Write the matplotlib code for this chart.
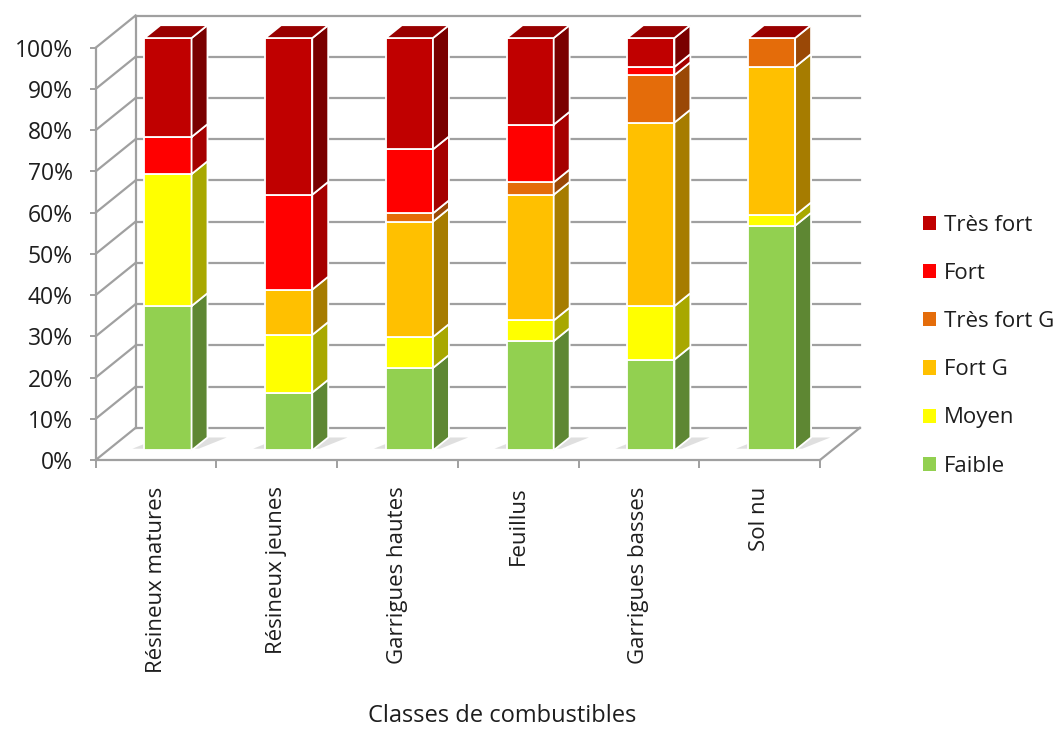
import numpy as np
import matplotlib.pyplot as plt
from matplotlib.patches import Polygon, Patch

plt.rcParams['font.family'] = ['Open Sans', 'DejaVu Sans']

# Data (% of each fuel class)
categories = ['Résineux matures', 'Résineux jeunes', 'Garrigues hautes',
              'Feuillus', 'Garrigues basses', 'Sol nu']
series_names = ['Faible', 'Moyen', 'Fort G', 'Très fort G', 'Fort', 'Très fort']
faible = [35, 14, 20, 26.5, 22, 54.5]
moyen = [32, 14, 7.5, 5, 13, 2.5]
fort_g = [0, 11, 28, 30.5, 44.5, 36]
tres_fort_g = [0, 0, 2, 3, 11.5, 7]
fort = [9, 23, 15.5, 14, 2, 0]
tres_fort = [24, 38, 27, 21, 7, 0]
y_ticks = list(range(0, 101, 10))

front_colors = ['#92D050', '#FFFF00', '#FFC000', '#E46C0A', '#FF0000', '#C00000']
side_colors = ['#5E8733', '#A8A800', '#A67C00', '#9A4806', '#A60000', '#7A0000']
top_color = '#990000'
grid_col = '#a0a0a0'
text_col = '#1e1e1e'

# fake 3D: depth offset of the full wall, in (category, %) units
DX, DY = 0.33, 7.8
BAR_W = 0.39
D0, D1 = 0.3, 0.7


def proj(x, y, d):
    return (x + d * DX, y + d * DY)


fig = plt.figure(figsize=(10.58, 7.33), dpi=100)
ax = fig.add_axes([95.7 / 1058, (733 - 460) / 733,
                   (820 - 95.7) / 1058, (460 - 47.7) / 733])
n = len(categories)
ax.set_xlim(-0.5, n - 0.5)
ax.set_ylim(0, 100)

# walls and gridlines
xl, xr = -0.5, n - 0.5
for v in y_ticks:
    a, b = proj(xl, v, 0), proj(xl, v, 1)
    ax.plot([a[0], b[0]], [a[1], b[1]], color=grid_col, lw=1.6, clip_on=False, zorder=1)
    c = proj(xr, v, 1)
    ax.plot([b[0], c[0]], [b[1], c[1]], color=grid_col, lw=1.6, clip_on=False, zorder=1)
p, q = proj(xl, 0, 1), proj(xl, 100, 1)
ax.plot([p[0], q[0]], [p[1], q[1]], color=grid_col, lw=1.6, clip_on=False, zorder=1)
p, q = proj(xr, 0, 0), proj(xr, 0, 1)
ax.plot([p[0], q[0]], [p[1], q[1]], color=grid_col, lw=1.6, clip_on=False, zorder=1)

# stacked bars
stack = np.vstack([faible, moyen, fort_g, tres_fort_g, fort, tres_fort])
bottoms = np.cumsum(stack, axis=0) - stack
totals = stack.sum(axis=0)
for i in range(n):
    x0, x1 = i - BAR_W / 2, i + BAR_W / 2
    # soft floor shadow
    shadow = [proj(x0 - 0.1, 0.4, D0), proj(x1 + 0.06, 0.4, D0),
              proj(x1 + 0.16, 0, D1), proj(x0, 0, D1)]
    ax.add_patch(Polygon(shadow, fc='#d2d2d2', ec='none', alpha=0.7,
                         clip_on=False, zorder=2))
    for j in range(stack.shape[0]):
        h = stack[j, i]
        if h <= 0:
            continue
        b = bottoms[j, i]
        t = b + h
        front = [proj(x0, b, D0), proj(x1, b, D0), proj(x1, t, D0), proj(x0, t, D0)]
        side = [proj(x1, b, D0), proj(x1, b, D1), proj(x1, t, D1), proj(x1, t, D0)]
        ax.add_patch(Polygon(front, fc=front_colors[j], ec='white', lw=1.3,
                             clip_on=False, zorder=3))
        ax.add_patch(Polygon(side, fc=side_colors[j], ec='white', lw=1.3,
                             clip_on=False, zorder=3))
    t = totals[i]
    top = [proj(x0, t, D0), proj(x1, t, D0), proj(x1, t, D1), proj(x0, t, D1)]
    ax.add_patch(Polygon(top, fc=top_color, ec='white', lw=1.3,
                         clip_on=False, zorder=3))

# axes, ticks
for s in ['top', 'right']:
    ax.spines[s].set_visible(False)
for s in ['left', 'bottom']:
    ax.spines[s].set_color(grid_col)
    ax.spines[s].set_linewidth(1.6)
ax.set_yticks(y_ticks)
ax.set_yticklabels([f'{v}%' for v in y_ticks])
ax.tick_params(axis='y', length=4.5, width=1.4, color=grid_col, pad=12,
               labelsize=16.5, labelcolor=text_col)
ax.set_xticks(np.arange(-0.5, n, 1))
ax.set_xticklabels([])
ax.tick_params(axis='x', which='major', length=6, width=1.4, color=grid_col)
ax.set_xticks(np.arange(n), minor=True)
ax.set_xticklabels(categories, minor=True, rotation=90)
ax.tick_params(axis='x', which='minor', length=0, pad=19, labelsize=16,
               labelcolor=text_col)

fig.text(502 / 1058, 1 - 716 / 733, 'Classes de combustibles', ha='center',
         va='center', fontsize=17, color=text_col)

handles = [Patch(fc=front_colors[j], ec='none') for j in range(len(series_names))][::-1]
fig.legend(handles, series_names[::-1], loc='center left',
           bbox_to_anchor=(923 / 1058, 1 - 345.8 / 733), frameon=False,
           fontsize=16, handlelength=0.6, handleheight=0.6, handletextpad=0.35,
           labelspacing=1.22, borderpad=0, borderaxespad=0, labelcolor=text_col)

fig.savefig('out.png', dpi=100, facecolor='white')
